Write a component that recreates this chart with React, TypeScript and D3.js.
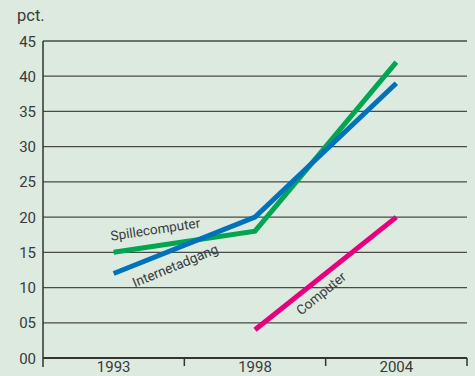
import React, { useEffect, useRef } from "react";
import * as d3 from "d3";

const years = ["1993", "1998", "2004"];
const yTicks = [0, 5, 10, 15, 20, 25, 30, 35, 40, 45];
const spillecomputer = [15, 18, 42];
const internetadgang = [12, 20, 39];
const computer = [null, 4, 20];

const W = 475;
const H = 376;

const App: React.FC = () => {
  const svgRef = useRef<SVGSVGElement | null>(null);

  useEffect(() => {
    if (!svgRef.current) return;
    const svg = d3.select(svgRef.current);
    svg.selectAll("*").remove();

    const left = 43, right = 467, top = 41, bottom = 358;
    const font = "Roboto, sans-serif";
    const textColor = "#3a3a3a";

    svg.append("rect").attr("width", W).attr("height", H).attr("fill", "#dceadf");

    const x = d3.scaleBand<string>().domain(years).range([left, right]);
    const y = d3.scaleLinear().domain([0, 45]).range([bottom, top]);

    // gridlines
    svg.append("g")
      .selectAll("line")
      .data(yTicks.filter(d => d > 0))
      .enter()
      .append("line")
      .attr("x1", left)
      .attr("x2", right)
      .attr("y1", d => y(d))
      .attr("y2", d => y(d))
      .attr("stroke", "#4a4a4a")
      .attr("stroke-width", 1.3);

    // y labels
    svg.append("g")
      .selectAll("text")
      .data(yTicks)
      .enter()
      .append("text")
      .attr("x", 36)
      .attr("y", d => y(d) + 5.5)
      .attr("text-anchor", "end")
      .attr("font-family", font)
      .attr("font-size", 15)
      .attr("fill", textColor)
      .text(d => (d < 10 ? "0" + d : String(d)));

    svg.append("text")
      .attr("x", 17)
      .attr("y", 21)
      .attr("font-family", font)
      .attr("font-size", 16.5)
      .attr("fill", textColor)
      .text("pct.");

    // axes
    svg.append("line")
      .attr("x1", left).attr("x2", left)
      .attr("y1", top).attr("y2", bottom + 9)
      .attr("stroke", "#333").attr("stroke-width", 1.5);
    svg.append("line")
      .attr("x1", left).attr("x2", right)
      .attr("y1", bottom).attr("y2", bottom)
      .attr("stroke", "#333").attr("stroke-width", 2);

    const bandEdges = years.map(d => x(d)! + x.bandwidth());
    svg.append("g")
      .selectAll("line")
      .data(bandEdges)
      .enter()
      .append("line")
      .attr("x1", d => d).attr("x2", d => d)
      .attr("y1", bottom).attr("y2", bottom + 8)
      .attr("stroke", "#333").attr("stroke-width", 1.5);

    svg.append("g")
      .selectAll("text")
      .data(years)
      .enter()
      .append("text")
      .attr("x", d => x(d)! + x.bandwidth() / 2)
      .attr("y", 372)
      .attr("text-anchor", "middle")
      .attr("font-family", font)
      .attr("font-size", 15)
      .attr("fill", textColor)
      .text(d => d);

    const cx = (i: number) => x(years[i])! + x.bandwidth() / 2;
    const line = d3.line<number | null>()
      .defined(d => d !== null)
      .x((_, i) => cx(i))
      .y(d => y(d as number));

    const series: [Array<number | null>, string][] = [
      [computer, "#e6007e"],
      [spillecomputer, "#00a651"],
      [internetadgang, "#0072bc"],
    ];
    series.forEach(([vals, color]) => {
      svg.append("path")
        .datum(vals)
        .attr("d", line)
        .attr("fill", "none")
        .attr("stroke", color)
        .attr("stroke-width", 5);
    });

    const labels = [
      { text: "Spillecomputer", x: 156, y: 234, angle: -8.5 },
      { text: "Internetadgang", x: 177, y: 270, angle: -22.5 },
      { text: "Computer", x: 324, y: 297, angle: -39 },
    ];
    svg.append("g")
      .selectAll("text")
      .data(labels)
      .enter()
      .append("text")
      .attr("transform", d => `translate(${d.x},${d.y}) rotate(${d.angle})`)
      .attr("text-anchor", "middle")
      .attr("font-family", font)
      .attr("font-size", 13.5)
      .attr("fill", textColor)
      .text(d => d.text);
  }, []);

  return (
    <svg
      ref={svgRef}
      width={W}
      height={H}
      style={{ position: "absolute", left: 0, top: 0 }}
    ></svg>
  );
};

export default App;
